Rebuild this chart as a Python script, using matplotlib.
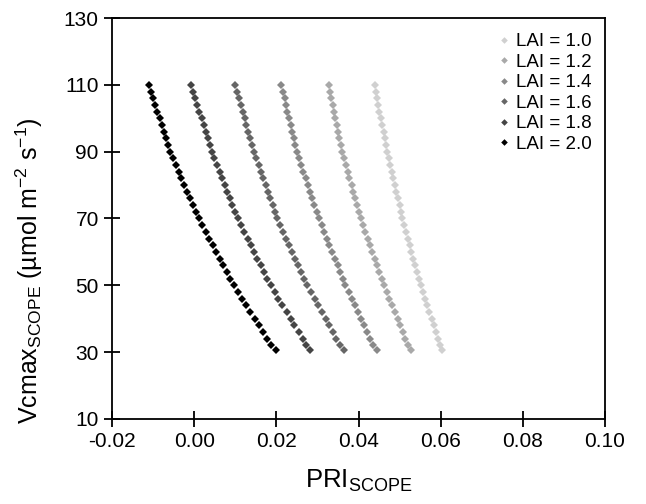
"""
plot.py
Vcmax vs PRI scatter from SCOPE simulations, one series per LAI.
"""

import matplotlib
matplotlib.use("Agg")
import matplotlib.pyplot as plt

plt.rcParams["font.family"] = ["Liberation Sans", "DejaVu Sans"]
plt.rcParams["mathtext.fontset"] = "custom"
plt.rcParams["mathtext.rm"] = "Liberation Sans"
plt.rcParams["mathtext.it"] = "Liberation Sans:italic"
plt.rcParams["axes.unicode_minus"] = False

# ---------------------------------------------------------------------------
# Data
# ---------------------------------------------------------------------------
VCMAX = [110, 108, 106, 104, 102, 100, 98, 96, 94, 92, 90,
         88, 86, 84, 82, 80, 78, 76, 74, 72, 70,
         68, 66, 64, 62, 60, 58, 56, 54, 52, 50,
         48, 46, 44, 42, 40, 38, 36, 34, 32, 30.5]

PRI_LAI_10 = [0.0439, 0.0442, 0.0445, 0.0448, 0.0451, 0.0455, 0.0458, 0.0461, 0.0464, 0.0467, 0.0470,
              0.0474, 0.0477, 0.0481, 0.0485, 0.0489, 0.0492, 0.0496, 0.0500, 0.0503, 0.0507,
              0.0511, 0.0516, 0.0520, 0.0525, 0.0529, 0.0533, 0.0538, 0.0542, 0.0547, 0.0551,
              0.0556, 0.0562, 0.0567, 0.0572, 0.0578, 0.0583, 0.0588, 0.0594, 0.0599, 0.0604]
PRI_LAI_12 = [0.0327, 0.0330, 0.0334, 0.0337, 0.0340, 0.0344, 0.0347, 0.0350, 0.0353, 0.0357, 0.0360,
              0.0365, 0.0369, 0.0374, 0.0378, 0.0383, 0.0387, 0.0392, 0.0396, 0.0401, 0.0405,
              0.0411, 0.0416, 0.0422, 0.0428, 0.0434, 0.0439, 0.0445, 0.0451, 0.0456, 0.0462,
              0.0469, 0.0475, 0.0482, 0.0488, 0.0495, 0.0501, 0.0508, 0.0514, 0.0521, 0.0527]
PRI_LAI_14 = [0.0212, 0.0216, 0.0220, 0.0223, 0.0227, 0.0231, 0.0235, 0.0239, 0.0242, 0.0246, 0.0250,
              0.0255, 0.0261, 0.0266, 0.0271, 0.0277, 0.0282, 0.0287, 0.0292, 0.0298, 0.0303,
              0.0310, 0.0316, 0.0323, 0.0329, 0.0336, 0.0342, 0.0349, 0.0355, 0.0362, 0.0368,
              0.0376, 0.0383, 0.0391, 0.0398, 0.0406, 0.0414, 0.0421, 0.0429, 0.0436, 0.0444]
PRI_LAI_16 = [0.0100, 0.0105, 0.0109, 0.0114, 0.0118, 0.0123, 0.0127, 0.0132, 0.0136, 0.0141, 0.0145,
              0.0151, 0.0157, 0.0162, 0.0168, 0.0174, 0.0179, 0.0185, 0.0191, 0.0196, 0.0202,
              0.0209, 0.0217, 0.0224, 0.0231, 0.0239, 0.0246, 0.0253, 0.0260, 0.0268, 0.0275,
              0.0284, 0.0293, 0.0302, 0.0311, 0.0320, 0.0328, 0.0337, 0.0346, 0.0355, 0.0364]
PRI_LAI_18 = [-0.0008, -0.0003, 0.0002, 0.0007, 0.0012, 0.0018, 0.0023, 0.0028, 0.0033, 0.0038, 0.0043,
              0.0049, 0.0055, 0.0062, 0.0068, 0.0075, 0.0081, 0.0087, 0.0093, 0.0100, 0.0106,
              0.0114, 0.0122, 0.0130, 0.0138, 0.0146, 0.0154, 0.0162, 0.0170, 0.0178, 0.0186,
              0.0196, 0.0205, 0.0215, 0.0225, 0.0235, 0.0244, 0.0254, 0.0264, 0.0273, 0.0283]
PRI_LAI_20 = [-0.0110, -0.0105, -0.0100, -0.0095, -0.0090, -0.0084, -0.0079, -0.0074, -0.0069, -0.0064, -0.0059,
              -0.0052, -0.0045, -0.0038, -0.0031, -0.0024, -0.0017, -0.0010, -0.0003, 0.0004, 0.0011,
              0.0020, 0.0028, 0.0037, 0.0045, 0.0054, 0.0062, 0.0071, 0.0079, 0.0088, 0.0096,
              0.0106, 0.0116, 0.0127, 0.0137, 0.0147, 0.0157, 0.0167, 0.0178, 0.0188, 0.0198]

LAI_LABELS = ["LAI = 1.0", "LAI = 1.2", "LAI = 1.4", "LAI = 1.6", "LAI = 1.8", "LAI = 2.0"]
SERIES = [PRI_LAI_10, PRI_LAI_12, PRI_LAI_14, PRI_LAI_16, PRI_LAI_18, PRI_LAI_20]
COLORS = ["#d0d0d0", "#a9a9a9", "#898989", "#666666", "#454545", "#000000"]

X_TICKS = [-0.02, 0.00, 0.02, 0.04, 0.06, 0.08, 0.10]
Y_TICKS = [10, 30, 50, 70, 90, 110, 130]

# ---------------------------------------------------------------------------
# Plot
# ---------------------------------------------------------------------------
fig = plt.figure(figsize=(6.46, 5.04), dpi=100)
ax = fig.add_axes([112 / 646, 85 / 504, 493 / 646, 401 / 504])

for pri, color, label in zip(SERIES, COLORS, LAI_LABELS):
    ax.plot(pri, VCMAX, linestyle="none", marker="D", markersize=4.2,
            markeredgewidth=0, color=color, label=label)

ax.set_xlim(-0.02, 0.10)
ax.set_ylim(10, 130)
ax.set_xticks(X_TICKS)
ax.set_xticklabels([f"{t:.2f}" for t in X_TICKS])
ax.set_yticks(Y_TICKS)

for side in ["left", "bottom", "top", "right"]:
    ax.spines[side].set_linewidth(1.3)
ax.tick_params(direction="inout", length=11, width=1.3, labelsize=15, pad=4,
               top=False, right=False)

ax.set_xlabel(r"PRI$_{\mathrm{SCOPE}}$", fontsize=18.5, labelpad=12)
ax.set_ylabel(r"Vcmax$_{\mathrm{SCOPE}}$ (µmol m$^{\mathrm{-2}}$ s$^{\mathrm{-1}}$)", fontsize=18)
ax.yaxis.set_label_coords(-0.135, 0.37)

leg = ax.legend(loc="upper right", bbox_to_anchor=(0.995, 0.99), frameon=False,
                fontsize=13.5, handlelength=0.5, handletextpad=0.35, labelspacing=0.18,
                borderaxespad=0.2, markerscale=0.8)

plt.savefig("out.png", dpi=100)
plt.close()
